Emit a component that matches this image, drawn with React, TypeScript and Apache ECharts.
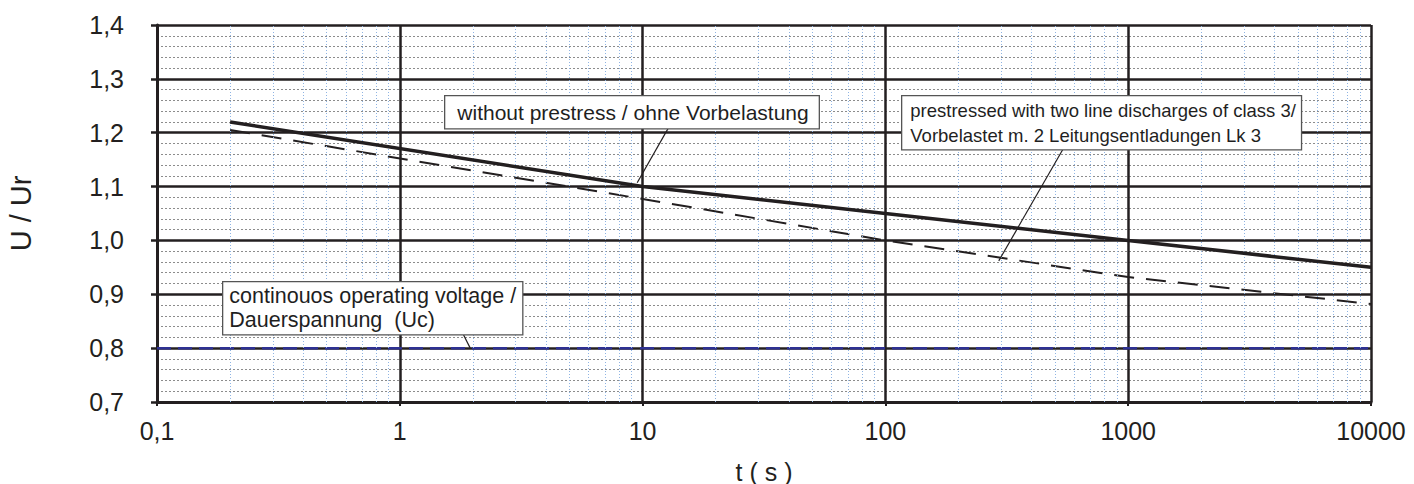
import React, { useEffect, useRef } from "react";
import * as echarts from "echarts";

// ---- data ----
const tSolid = [0.2, 10, 100, 1000, 10000];
const uSolid = [1.22, 1.1, 1.05, 1.0, 0.95];
const tDashed = [0.2, 10, 100, 1000, 10000];
const uDashed = [1.205, 1.077, 1.0, 0.932, 0.882];
const tUc = [0.1, 10000];
const uUc = [0.8, 0.8];

const xTickLabels = ["0,1", "1", "10", "100", "1000", "10000"];
const yTickLabels = ["0,7", "0,8", "0,9", "1,0", "1,1", "1,2", "1,3", "1,4"];

const decades = [0.1, 1, 10, 100, 1000];
const minorMultipliers = [2, 3, 4, 5, 6, 7, 8, 9];

const label1 = "without prestress / ohne Vorbelastung";
const label2 = "prestressed with two line discharges of class 3/\nVorbelastet m. 2 Leitungsentladungen Lk 3";
const label3 = "continouos operating voltage /\nDauerspannung  (Uc)";

// leader lines (data coordinates): [from t, from U, to t, to U]
const leader1 = [13.0, 1.215, 9.5, 1.107];
const leader2 = [543, 1.172, 293, 0.962];
const leader3 = [1.81, 0.829, 1.95, 0.8];

const FONT = "'Liberation Sans', Arial, sans-serif";
const INK = "#231f20";

export default function App() {
  const ref = useRef<HTMLDivElement>(null);

  useEffect(() => {
    if (!ref.current) return;
    const chart = echarts.init(ref.current, null, { renderer: "svg" });

    const minorX: number[] = [];
    decades.forEach((d) => minorMultipliers.forEach((m) => minorX.push(+(d * m).toPrecision(6))));

    const pairs = (xs: number[], ys: number[]) => xs.map((x, i) => [x, ys[i]]);
    const leader = (l: number[]) => [{ coord: [l[0], l[1]] }, { coord: [l[2], l[3]] }];

    const boxStyle = {
      fill: "#1f1f1f",
      backgroundColor: "#ffffff",
      borderColor: "#555555",
      borderWidth: 1.3,
      fontFamily: FONT,
    };

    chart.setOption({
      animation: false,
      textStyle: { fontFamily: FONT },
      grid: {
        left: 157,
        right: 43,
        top: 25,
        bottom: 82,
        containLabel: false,
        outerBoundsMode: "none",
      },
      xAxis: {
        type: "log",
        logBase: 10,
        min: 0.1,
        max: 10000,
        z: 1,
        name: "t ( s )",
        nameLocation: "middle",
        nameGap: 57,
        nameTextStyle: { fontSize: 25, color: INK, fontFamily: FONT },
        axisLine: { show: true, lineStyle: { color: INK, width: 3 } },
        axisTick: { show: true, length: 4, lineStyle: { color: INK, width: 2 } },
        axisLabel: {
          fontSize: 25,
          color: INK,
          margin: 16,
          formatter: (v: number) => xTickLabels[Math.round(Math.log10(v)) + 1] ?? "",
        },
        splitLine: { show: true, lineStyle: { color: INK, width: 2.5 } },
        minorTick: { show: false },
        minorSplitLine: { show: false },
      },
      yAxis: {
        type: "value",
        min: 0.7,
        max: 1.4,
        interval: 0.1,
        z: 1,
        name: "U / Ur",
        nameLocation: "middle",
        nameGap: 122,
        nameTextStyle: { fontSize: 29, color: INK, fontFamily: FONT },
        axisLine: { show: true, lineStyle: { color: INK, width: 3 } },
        axisTick: { show: true, length: 6, lineStyle: { color: INK, width: 2.5 } },
        axisLabel: {
          fontSize: 25,
          color: INK,
          margin: 33,
          formatter: (v: number) => yTickLabels[Math.round((v - 0.7) / 0.1)] ?? "",
        },
        splitLine: { show: true, lineStyle: { color: INK, width: 2.5 } },
        minorTick: { show: false, splitNumber: 5 },
        minorSplitLine: { show: true, lineStyle: { color: "#8c8c8c", width: 1, type: [2, 2] } },
      },
      series: [
        {
          type: "line",
          name: "minor",
          z: 0,
          silent: true,
          data: [],
          markLine: {
            silent: true,
            symbol: "none",
            label: { show: false },
            lineStyle: { color: "#8fb4e3", width: 1, type: [1, 2] },
            data: minorX.map((x) => ({ xAxis: x })),
          },
        },
        {
          type: "line",
          name: "Uc",
          data: pairs(tUc, uUc),
          showSymbol: false,
          z: 3,
          lineStyle: { color: "#2e3192", width: 2.5, type: [14, 7] },
        },
        {
          type: "line",
          name: "prestressed",
          data: pairs(tDashed, uDashed),
          showSymbol: false,
          z: 4,
          lineStyle: { color: INK, width: 2, type: [20, 12] },
        },
        {
          type: "line",
          name: "without prestress",
          data: pairs(tSolid, uSolid),
          showSymbol: false,
          z: 5,
          lineStyle: { color: INK, width: 3.5 },
          markLine: {
            silent: true,
            symbol: "none",
            label: { show: false },
            lineStyle: { color: INK, width: 1.2, type: "solid" },
            data: [leader(leader1), leader(leader2), leader(leader3)],
          },
        },
      ],
      graphic: [
        {
          type: "text",
          z: 100,
          left: 444,
          top: 95,
          style: {
            ...boxStyle,
            text: label1,
            fontSize: 21,
            lineHeight: 22,
            padding: [5, 10, 5, 12],
          },
        },
        {
          type: "text",
          z: 100,
          left: 901,
          top: 95,
          style: {
            ...boxStyle,
            text: label2,
            fontSize: 18.5,
            lineHeight: 25,
            padding: [2, 5, 1, 8],
          },
        },
        {
          type: "text",
          z: 100,
          left: 222,
          top: 281,
          style: {
            ...boxStyle,
            text: label3,
            fontSize: 21.5,
            lineHeight: 24,
            padding: [2, 6, 2, 6],
          },
        },
      ],
    });

    return () => chart.dispose();
  }, []);

  return (
    <div
      ref={ref}
      style={{ position: "fixed", left: 0, top: 0, width: 1414, height: 484, background: "#fff" }}
    />
  );
}
